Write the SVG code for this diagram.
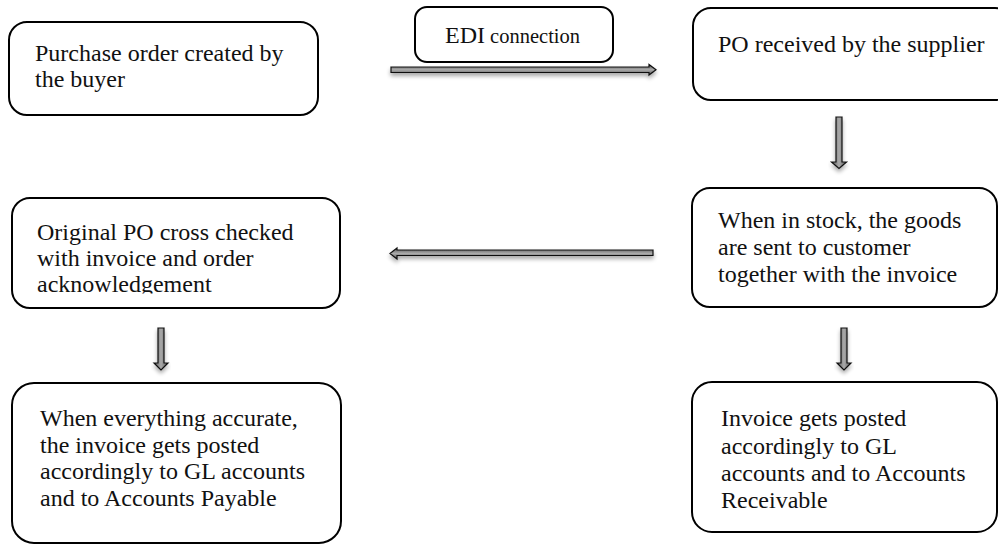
<svg xmlns="http://www.w3.org/2000/svg" width="998" height="545" viewBox="0 0 998 545">
<style>
.box{fill:#fff;stroke:#000;stroke-width:2}
.t{font-family:"Liberation Serif","Times New Roman",serif;font-size:24px;fill:#111}
.arr{stroke:#111;stroke-width:1.2;stroke-linejoin:miter;filter:url(#sh)}
.h{fill:url(#gh)}
.v{fill:url(#gv)}
</style>
<defs>
<linearGradient id="gh" x1="0" y1="0" x2="0" y2="1">
<stop offset="0" stop-color="#555"/><stop offset="0.5" stop-color="#aaa"/><stop offset="1" stop-color="#555"/>
</linearGradient>
<linearGradient id="gv" x1="0" y1="0" x2="1" y2="0">
<stop offset="0" stop-color="#555"/><stop offset="0.5" stop-color="#aaa"/><stop offset="1" stop-color="#555"/>
</linearGradient>
<filter id="sh" x="-20%" y="-50%" width="140%" height="250%">
<feGaussianBlur in="SourceAlpha" stdDeviation="2"/>
<feOffset dx="0" dy="3" result="b"/>
<feComponentTransfer><feFuncA type="linear" slope="0.35"/></feComponentTransfer>
<feMerge><feMergeNode/><feMergeNode in="SourceGraphic"/></feMerge>
</filter>
<clipPath id="c4"><rect x="0" y="190" width="360" height="103.5"/></clipPath>
</defs>

<g id="connectors">
<polygon class="arr h" points="391,67 649,67 649,64.5 656,69.7 649,75 649,72.5 391,72.5"/>
<polygon class="arr h" points="653,250 397,250 397,248 390,253.5 397,259 397,255.5 653,255.5"/>
<polygon class="arr v" points="836,117 842,117 842,162 846.5,162 839,168.5 831.5,162 836,162"/>
<polygon class="arr v" points="158,328 164,328 164,363 168,363 161,370 154,363 158,363"/>
<polygon class="arr v" points="841,328 847,328 847,363 851,363 844,370 837,363 841,363"/>
</g>

<g id="edi">
<rect class="box" x="415" y="7" width="198" height="55" rx="12"/>
<text x="445" y="43" class="t">EDI<tspan font-size="20.5px"> connection</tspan></text>
</g>

<g id="n1">
<rect class="box" x="9" y="22" width="309" height="93" rx="18"/>
<text class="t" x="35" y="61">Purchase order created by</text>
<text class="t" x="35" y="87">the buyer</text>
</g>

<g id="n2">
<rect class="box" x="693" y="8" width="320" height="92" rx="18"/>
<text class="t" x="718" y="52">PO received by the supplier</text>
</g>

<g id="n3">
<rect class="box" x="692" y="188" width="305" height="119" rx="18"/>
<text class="t" x="718" y="228">When in stock, the goods</text>
<text class="t" x="718" y="255">are sent to customer</text>
<text class="t" x="718" y="282">together with the invoice</text>
</g>

<g id="n4">
<rect class="box" x="12" y="198" width="328" height="110" rx="18"/>
<g clip-path="url(#c4)">
<text class="t" x="37" y="240">Original PO cross checked</text>
<text class="t" x="37" y="266">with invoice and order</text>
<text class="t" x="37" y="292">acknowledgement</text>
</g>
</g>

<g id="n5">
<rect class="box" x="12" y="383" width="329" height="160" rx="22"/>
<text class="t" x="40" y="426">When everything accurate,</text>
<text class="t" x="40" y="453">the invoice gets posted</text>
<text class="t" x="40" y="479">accordingly to GL accounts</text>
<text class="t" x="40" y="506">and to Accounts Payable</text>
</g>

<g id="n6">
<rect class="box" x="692" y="382" width="305" height="150" rx="20"/>
<text class="t" x="721" y="426">Invoice gets posted</text>
<text class="t" x="721" y="454">accordingly to GL</text>
<text class="t" x="721" y="481">accounts and to Accounts</text>
<text class="t" x="721" y="508">Receivable</text>
</g>
</svg>
